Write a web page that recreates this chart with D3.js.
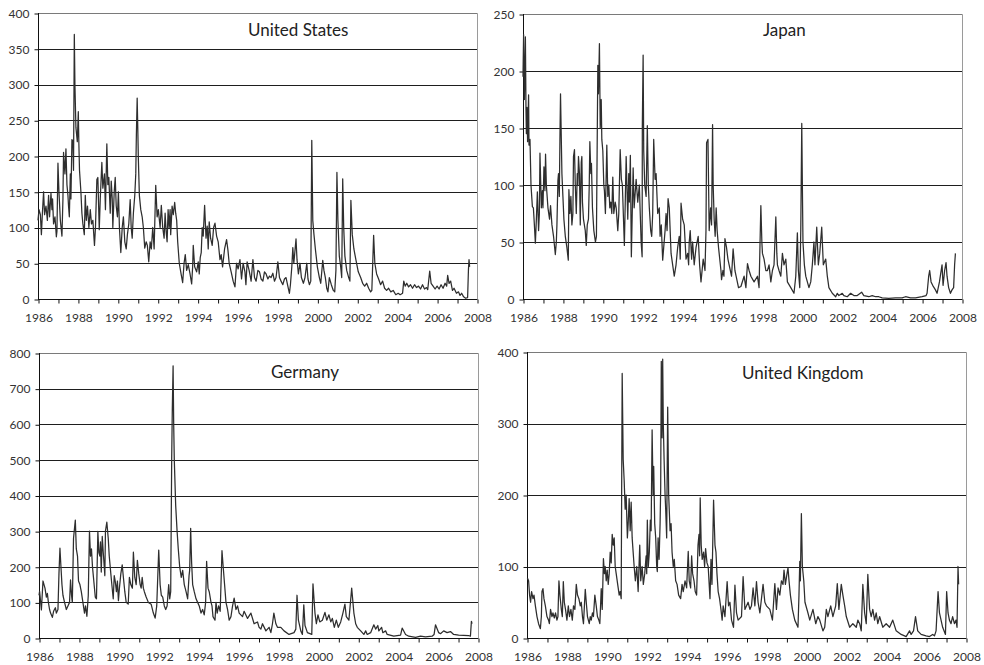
<!DOCTYPE html>
<html>
<head>
<meta charset="utf-8">
<script src="https://cdn.jsdelivr.net/npm/d3@7"></script>
<style>
  html, body { margin: 0; padding: 0; background: #fff; }
  svg { display: block; font-family: Lato, "Open Sans", sans-serif; }
  .tick text { fill: #333; }
</style>
</head>
<body>
<svg id="chart" width="984" height="665"></svg>
<script>
// Time axis: years (fractional) from 1986 to 2008
const yearTicks = d3.range(1986, 2009);

// Series: [year, value]
const usData = [
  [1986.00,110],[1986.05,125],[1986.12,118],[1986.17,90],[1986.22,120],[1986.28,150],[1986.33,118],[1986.40,130],
  [1986.47,110],[1986.53,145],[1986.58,115],[1986.65,148],[1986.70,125],[1986.73,140],[1986.78,105],[1986.85,115],
  [1986.92,87],[1986.95,95],[1987.00,190],[1987.05,150],[1987.12,110],[1987.20,88],[1987.25,140],[1987.28,205],
  [1987.35,175],[1987.40,210],[1987.45,160],[1987.50,145],[1987.53,130],[1987.57,115],[1987.62,175],[1987.65,140],
  [1987.70,223],[1987.75,220],[1987.78,180],[1987.82,370],[1987.85,300],[1987.90,240],[1987.97,220],[1988.02,262],
  [1988.05,215],[1988.08,180],[1988.15,150],[1988.20,120],[1988.25,105],[1988.32,90],[1988.37,145],[1988.42,110],
  [1988.48,130],[1988.55,100],[1988.62,125],[1988.68,105],[1988.75,110],[1988.83,75],[1988.88,100],[1988.95,167],
  [1989.00,170],[1989.07,97],[1989.12,140],[1989.20,191],[1989.25,155],[1989.33,175],[1989.38,125],[1989.45,217],
  [1989.50,160],[1989.55,170],[1989.62,120],[1989.67,165],[1989.72,140],[1989.75,100],[1989.82,150],[1989.87,170],
  [1989.92,130],[1989.98,115],[1990.03,150],[1990.08,100],[1990.15,65],[1990.22,100],[1990.28,115],[1990.35,80],
  [1990.42,70],[1990.48,90],[1990.55,105],[1990.62,139],[1990.67,100],[1990.72,85],[1990.78,120],[1990.85,145],
  [1990.90,175],[1990.93,230],[1990.97,281],[1991.00,240],[1991.03,195],[1991.08,145],[1991.15,125],[1991.22,115],
  [1991.28,100],[1991.35,71],[1991.42,80],[1991.48,75],[1991.55,52],[1991.62,80],[1991.68,70],[1991.75,100],
  [1991.82,70],[1991.90,159],[1991.97,115],[1992.03,125],[1992.12,100],[1992.18,131],[1992.25,100],[1992.32,85],
  [1992.37,120],[1992.42,95],[1992.47,80],[1992.52,125],[1992.57,100],[1992.62,125],[1992.65,90],[1992.72,130],
  [1992.78,118],[1992.85,135],[1992.90,120],[1992.95,110],[1993.00,80],[1993.08,50],[1993.17,35],[1993.25,23],
  [1993.32,50],[1993.38,62],[1993.45,40],[1993.53,48],[1993.62,35],[1993.70,21],[1993.75,45],[1993.78,75],
  [1993.85,45],[1993.95,38],[1994.03,52],[1994.08,35],[1994.13,58],[1994.18,65],[1994.23,100],[1994.28,88],
  [1994.35,131],[1994.42,85],[1994.48,102],[1994.53,70],[1994.58,108],[1994.65,85],[1994.73,75],[1994.80,100],
  [1994.87,106],[1994.95,88],[1995.03,80],[1995.12,55],[1995.18,62],[1995.25,45],[1995.35,70],[1995.45,83],
  [1995.52,68],[1995.58,50],[1995.68,38],[1995.78,25],[1995.87,17],[1995.95,50],[1996.03,42],[1996.12,55],
  [1996.20,28],[1996.28,50],[1996.37,38],[1996.42,20],[1996.48,52],[1996.58,40],[1996.68,25],[1996.77,55],
  [1996.85,30],[1996.93,25],[1997.02,40],[1997.10,38],[1997.18,28],[1997.27,25],[1997.35,38],[1997.43,35],
  [1997.52,28],[1997.60,32],[1997.68,30],[1997.77,36],[1997.85,25],[1997.93,30],[1998.02,52],[1998.10,30],
  [1998.18,25],[1998.27,20],[1998.35,28],[1998.43,30],[1998.52,18],[1998.60,8],[1998.65,20],[1998.72,45],
  [1998.77,72],[1998.82,50],[1998.87,65],[1998.93,84],[1998.98,55],[1999.05,35],[1999.13,50],[1999.20,30],
  [1999.30,22],[1999.38,30],[1999.47,50],[1999.53,28],[1999.60,20],[1999.67,25],[1999.72,222],[1999.77,110],
  [1999.83,90],[1999.90,70],[2000.00,45],[2000.10,30],[2000.17,22],[2000.27,54],[2000.33,40],[2000.40,30],
  [2000.47,15],[2000.53,10],[2000.60,30],[2000.70,20],[2000.80,12],[2000.87,10],[2000.93,40],[2000.98,177],
  [2001.03,110],[2001.10,60],[2001.17,45],[2001.22,30],[2001.27,168],[2001.32,100],[2001.38,60],[2001.47,40],
  [2001.57,30],[2001.63,25],[2001.68,138],[2001.75,90],[2001.83,70],[2001.93,55],[2002.05,38],[2002.17,30],
  [2002.27,22],[2002.37,18],[2002.47,22],[2002.57,15],[2002.67,10],[2002.73,12],[2002.82,89],[2002.88,50],
  [2002.97,35],[2003.07,28],[2003.17,20],[2003.27,25],[2003.37,15],[2003.47,12],[2003.57,15],[2003.68,10],
  [2003.80,12],[2003.93,6],[2004.05,8],[2004.15,6],[2004.27,8],[2004.33,25],[2004.40,18],[2004.48,22],
  [2004.57,17],[2004.67,20],[2004.77,15],[2004.87,20],[2004.97,16],[2005.07,18],[2005.17,14],[2005.27,20],
  [2005.37,14],[2005.47,16],[2005.53,13],[2005.63,39],[2005.70,22],[2005.80,18],[2005.90,14],[2006.00,18],
  [2006.10,14],[2006.20,20],[2006.30,15],[2006.40,22],[2006.48,18],[2006.53,33],[2006.60,22],[2006.68,25],
  [2006.77,12],[2006.85,15],[2006.97,8],[2007.07,10],[2007.15,5],[2007.23,8],[2007.33,3],[2007.43,1],
  [2007.53,2],[2007.57,40],[2007.60,55],[2007.63,45]
];

const japanData = [
  [1986.00,195],[1986.03,232],[1986.07,175],[1986.10,205],[1986.12,230],[1986.15,166],[1986.17,145],[1986.20,168],
  [1986.23,138],[1986.28,179],[1986.30,135],[1986.35,140],[1986.40,100],[1986.47,81],[1986.52,80],[1986.57,65],
  [1986.62,49],[1986.67,70],[1986.72,94],[1986.78,60],[1986.82,75],[1986.85,128],[1986.92,80],[1986.97,95],
  [1987.00,80],[1987.05,116],[1987.10,95],[1987.13,127],[1987.17,100],[1987.25,80],[1987.33,70],[1987.38,82],
  [1987.45,65],[1987.53,55],[1987.62,39],[1987.67,50],[1987.70,65],[1987.75,104],[1987.78,110],[1987.82,90],
  [1987.85,139],[1987.88,180],[1987.92,140],[1987.95,110],[1988.00,90],[1988.05,70],[1988.12,55],[1988.20,45],
  [1988.27,34],[1988.30,96],[1988.35,75],[1988.40,90],[1988.45,65],[1988.50,75],[1988.53,125],[1988.58,131],
  [1988.62,100],[1988.67,75],[1988.72,110],[1988.75,100],[1988.78,125],[1988.83,110],[1988.87,65],[1988.92,120],
  [1988.95,125],[1988.98,85],[1989.03,70],[1989.12,60],[1989.17,47],[1989.22,65],[1989.28,70],[1989.32,100],
  [1989.35,138],[1989.40,110],[1989.43,119],[1989.48,80],[1989.55,60],[1989.63,50],[1989.68,55],[1989.75,205],
  [1989.78,180],[1989.83,224],[1989.87,150],[1989.92,175],[1989.95,140],[1990.00,130],[1990.05,100],[1990.08,95],
  [1990.13,75],[1990.20,135],[1990.25,90],[1990.30,100],[1990.35,80],[1990.40,85],[1990.45,75],[1990.50,107],
  [1990.55,75],[1990.62,85],[1990.67,80],[1990.75,60],[1990.80,75],[1990.87,131],[1990.93,105],[1990.98,100],
  [1991.08,47],[1991.13,90],[1991.17,125],[1991.25,70],[1991.30,110],[1991.33,85],[1991.38,126],[1991.43,37],
  [1991.52,115],[1991.57,80],[1991.67,105],[1991.75,85],[1991.83,100],[1991.92,50],[1991.97,37],[1991.98,151],
  [1992.02,214],[1992.05,130],[1992.10,100],[1992.17,90],[1992.23,152],[1992.28,100],[1992.33,80],[1992.40,60],
  [1992.45,55],[1992.50,75],[1992.55,140],[1992.62,105],[1992.67,110],[1992.75,75],[1992.83,80],[1992.87,55],
  [1992.93,65],[1993.00,34],[1993.05,45],[1993.12,60],[1993.17,75],[1993.22,60],[1993.27,88],[1993.33,80],
  [1993.42,40],[1993.50,30],[1993.58,20],[1993.67,30],[1993.75,45],[1993.83,55],[1993.88,35],[1993.92,84],
  [1994.00,70],[1994.08,65],[1994.17,35],[1994.25,40],[1994.30,30],[1994.33,50],[1994.38,60],[1994.45,35],
  [1994.50,50],[1994.58,30],[1994.67,45],[1994.78,55],[1994.85,30],[1994.92,15],[1995.03,35],[1995.12,25],
  [1995.17,60],[1995.20,137],[1995.27,140],[1995.30,100],[1995.33,60],[1995.40,80],[1995.45,65],[1995.50,153],
  [1995.53,100],[1995.58,70],[1995.63,55],[1995.68,80],[1995.73,60],[1995.80,45],[1995.83,40],[1995.92,25],
  [1995.95,17],[1996.02,25],[1996.07,20],[1996.12,53],[1996.20,45],[1996.27,35],[1996.33,30],[1996.45,20],
  [1996.53,44],[1996.62,25],[1996.68,20],[1996.80,10],[1996.92,11],[1997.08,20],[1997.17,10],[1997.25,31],
  [1997.33,25],[1997.42,20],[1997.58,15],[1997.75,20],[1997.83,10],[1997.92,82],[1997.97,50],[1998.00,40],
  [1998.08,35],[1998.17,25],[1998.25,25],[1998.33,30],[1998.42,15],[1998.50,25],[1998.58,30],[1998.67,72],
  [1998.72,40],[1998.75,30],[1998.83,25],[1998.92,20],[1999.00,40],[1999.08,30],[1999.17,35],[1999.25,15],
  [1999.42,10],[1999.58,5],[1999.67,20],[1999.75,58],[1999.80,25],[1999.87,10],[1999.92,60],[1999.97,154],
  [2000.00,100],[2000.03,50],[2000.10,30],[2000.17,20],[2000.33,10],[2000.42,15],[2000.50,30],[2000.58,50],
  [2000.63,30],[2000.72,63],[2000.80,30],[2000.87,40],[2000.97,63],[2001.05,30],[2001.17,35],[2001.25,20],
  [2001.33,10],[2001.50,5],[2001.67,2],[2001.75,5],[2001.83,3],[2002.00,5],[2002.08,3],[2002.25,2],
  [2002.42,5],[2002.58,3],[2002.75,3],[2002.97,6],[2003.08,3],[2003.33,2],[2003.50,3],[2003.67,2],
  [2003.83,2],[2004.00,1],[2004.33,0.5],[2004.67,1],[2005.00,1],[2005.17,2],[2005.42,1],[2005.67,1],
  [2006.00,2],[2006.20,3],[2006.25,5],[2006.33,20],[2006.38,25],[2006.45,15],[2006.53,12],[2006.67,8],
  [2006.75,5],[2006.87,15],[2006.93,22],[2007.00,30],[2007.05,12],[2007.10,20],[2007.13,25],[2007.20,32],
  [2007.25,20],[2007.33,10],[2007.42,5],[2007.50,8],[2007.58,10],[2007.63,30],[2007.67,40]
];

const germanyData = [
  [1986.00,120],[1986.03,131],[1986.12,79],[1986.20,160],[1986.25,150],[1986.30,140],[1986.37,115],[1986.42,125],
  [1986.47,100],[1986.53,80],[1986.58,70],[1986.67,58],[1986.73,75],[1986.82,85],[1986.87,70],[1986.95,80],
  [1987.00,180],[1987.05,252],[1987.10,200],[1987.15,150],[1987.20,120],[1987.28,100],[1987.37,80],[1987.45,90],
  [1987.53,100],[1987.58,163],[1987.63,120],[1987.67,100],[1987.73,280],[1987.82,331],[1987.87,250],[1987.93,230],
  [1987.98,160],[1988.05,150],[1988.12,130],[1988.20,100],[1988.28,70],[1988.33,90],[1988.40,61],[1988.47,120],
  [1988.50,215],[1988.53,300],[1988.58,230],[1988.63,250],[1988.68,200],[1988.73,170],[1988.82,115],[1988.88,110],
  [1988.95,299],[1989.00,240],[1989.05,230],[1989.08,270],[1989.12,185],[1989.17,285],[1989.22,240],[1989.27,200],
  [1989.30,175],[1989.33,300],[1989.40,325],[1989.47,280],[1989.52,230],[1989.60,180],[1989.65,150],[1989.72,110],
  [1989.77,175],[1989.82,160],[1989.88,130],[1989.93,160],[1989.98,105],[1990.03,140],[1990.10,180],[1990.17,205],
  [1990.23,170],[1990.30,130],[1990.37,100],[1990.47,95],[1990.53,170],[1990.60,150],[1990.68,140],[1990.73,241],
  [1990.80,170],[1990.87,150],[1990.93,218],[1991.00,180],[1991.07,150],[1991.12,140],[1991.17,170],[1991.23,140],
  [1991.28,130],[1991.37,115],[1991.48,100],[1991.62,95],[1991.73,70],[1991.82,56],[1991.90,90],[1991.95,170],
  [1992.00,247],[1992.07,150],[1992.13,120],[1992.20,115],[1992.28,90],[1992.35,80],[1992.42,90],[1992.50,150],
  [1992.55,110],[1992.60,130],[1992.65,504],[1992.68,640],[1992.72,764],[1992.75,600],[1992.78,500],[1992.85,372],
  [1992.92,300],[1992.98,250],[1993.05,200],[1993.13,170],[1993.20,190],[1993.28,150],[1993.37,130],[1993.45,110],
  [1993.52,175],[1993.55,190],[1993.60,308],[1993.65,210],[1993.70,150],[1993.78,130],[1993.87,110],[1993.95,100],
  [1994.03,90],[1994.12,70],[1994.20,80],[1994.28,65],[1994.35,100],[1994.40,215],[1994.47,140],[1994.53,130],
  [1994.62,100],[1994.67,90],[1994.72,60],[1994.82,50],[1994.87,100],[1994.93,70],[1995.00,90],[1995.08,75],
  [1995.17,245],[1995.23,200],[1995.30,150],[1995.37,100],[1995.45,80],[1995.53,50],[1995.62,60],[1995.70,90],
  [1995.78,112],[1995.87,80],[1995.95,90],[1996.03,70],[1996.20,60],[1996.28,75],[1996.45,55],[1996.62,70],
  [1996.78,40],[1996.95,45],[1997.03,30],[1997.12,25],[1997.20,40],[1997.37,20],[1997.53,30],[1997.62,15],
  [1997.70,40],[1997.77,70],[1997.87,40],[1997.95,30],[1998.12,30],[1998.28,20],[1998.53,10],[1998.78,15],
  [1998.87,25],[1998.93,120],[1999.00,50],[1999.12,20],[1999.20,10],[1999.27,93],[1999.33,35],[1999.45,15],
  [1999.67,10],[1999.73,152],[1999.83,70],[1999.90,40],[1999.98,65],[2000.07,45],[2000.20,50],[2000.33,72],
  [2000.42,50],[2000.53,65],[2000.62,45],[2000.70,55],[2000.80,30],[2000.90,50],[2001.00,30],[2001.12,45],
  [2001.23,70],[2001.33,95],[2001.40,60],[2001.53,50],[2001.67,140],[2001.78,70],[2001.87,40],[2001.95,30],
  [2002.12,20],[2002.28,10],[2002.37,20],[2002.45,10],[2002.62,15],[2002.78,37],[2002.87,25],[2002.98,35],
  [2003.03,20],[2003.17,30],[2003.23,15],[2003.37,20],[2003.45,10],[2003.78,5],[2004.12,8],[2004.20,28],
  [2004.37,10],[2004.53,5],[2004.87,2],[2005.12,5],[2005.37,3],[2005.70,5],[2005.80,10],[2005.87,37],
  [2006.03,15],[2006.12,12],[2006.28,20],[2006.45,15],[2006.62,18],[2006.78,10],[2007.03,8],[2007.53,7],
  [2007.62,5],[2007.67,47],[2007.70,40]
];

const ukData = [
  [1986.02,84],[1986.08,80],[1986.13,60],[1986.18,50],[1986.23,65],[1986.30,55],[1986.35,60],[1986.42,45],
  [1986.50,30],[1986.58,20],[1986.67,13],[1986.72,30],[1986.75,65],[1986.80,69],[1986.85,55],[1986.92,45],
  [1987.00,30],[1987.08,25],[1987.12,20],[1987.18,40],[1987.25,30],[1987.30,35],[1987.37,28],[1987.43,35],
  [1987.50,25],[1987.55,30],[1987.60,80],[1987.65,60],[1987.72,40],[1987.77,30],[1987.82,79],[1987.87,50],
  [1987.93,40],[1988.00,25],[1988.07,45],[1988.13,30],[1988.20,40],[1988.27,25],[1988.33,45],[1988.40,40],
  [1988.47,75],[1988.53,60],[1988.60,55],[1988.67,45],[1988.72,50],[1988.78,30],[1988.83,20],[1988.92,68],
  [1988.97,50],[1989.03,30],[1989.12,20],[1989.17,30],[1989.22,25],[1989.28,35],[1989.33,30],[1989.40,60],
  [1989.47,45],[1989.53,30],[1989.60,25],[1989.65,20],[1989.72,69],[1989.77,40],[1989.83,111],[1989.88,90],
  [1989.92,100],[1989.97,80],[1990.02,95],[1990.07,75],[1990.12,90],[1990.17,120],[1990.22,105],[1990.27,145],
  [1990.32,130],[1990.37,140],[1990.42,100],[1990.47,90],[1990.52,80],[1990.57,70],[1990.62,60],[1990.67,65],
  [1990.72,55],[1990.77,370],[1990.82,250],[1990.87,220],[1990.92,180],[1990.97,200],[1991.03,140],[1991.07,160],
  [1991.12,195],[1991.17,150],[1991.22,190],[1991.27,140],[1991.32,120],[1991.37,100],[1991.43,80],[1991.50,100],
  [1991.57,65],[1991.65,130],[1991.70,80],[1991.77,100],[1991.83,75],[1991.90,90],[1991.97,115],[1992.00,90],
  [1992.03,165],[1992.08,100],[1992.13,120],[1992.18,165],[1992.22,150],[1992.27,291],[1992.32,200],[1992.35,240],
  [1992.40,160],[1992.45,140],[1992.50,100],[1992.53,93],[1992.57,140],[1992.62,110],[1992.67,160],[1992.70,210],
  [1992.73,387],[1992.77,280],[1992.80,390],[1992.83,300],[1992.87,250],[1992.92,200],[1992.95,180],[1993.00,140],
  [1993.05,323],[1993.10,200],[1993.17,150],[1993.22,160],[1993.27,120],[1993.33,100],[1993.38,110],[1993.45,80],
  [1993.52,75],[1993.60,60],[1993.70,55],[1993.77,75],[1993.83,65],[1993.92,80],[1994.00,70],[1994.08,121],
  [1994.13,80],[1994.20,70],[1994.25,115],[1994.30,90],[1994.37,80],[1994.43,65],[1994.50,60],[1994.57,130],
  [1994.62,145],[1994.65,115],[1994.68,196],[1994.73,130],[1994.78,110],[1994.85,120],[1994.90,100],[1994.95,125],
  [1995.02,105],[1995.08,100],[1995.17,55],[1995.22,110],[1995.27,75],[1995.35,193],[1995.42,130],[1995.47,120],
  [1995.52,90],[1995.58,65],[1995.65,55],[1995.72,40],[1995.78,25],[1995.83,45],[1995.92,30],[1996.03,79],
  [1996.10,45],[1996.17,50],[1996.25,25],[1996.35,15],[1996.42,74],[1996.50,35],[1996.58,25],[1996.75,30],
  [1996.83,86],[1996.92,40],[1997.08,50],[1997.17,40],[1997.25,45],[1997.33,70],[1997.42,45],[1997.50,79],
  [1997.58,50],[1997.67,35],[1997.83,75],[1997.92,50],[1998.00,45],[1998.17,40],[1998.30,25],[1998.42,76],
  [1998.50,40],[1998.58,70],[1998.67,60],[1998.75,80],[1998.83,75],[1998.88,95],[1998.95,75],[1999.03,90],
  [1999.08,98],[1999.13,80],[1999.20,60],[1999.30,40],[1999.42,25],[1999.58,15],[1999.63,60],[1999.67,107],
  [1999.70,80],[1999.75,174],[1999.80,100],[1999.87,80],[1999.93,50],[2000.08,35],[2000.17,25],[2000.33,40],
  [2000.47,20],[2000.58,30],[2000.67,25],[2000.83,10],[2000.92,15],[2001.00,40],[2001.08,30],[2001.22,45],
  [2001.33,30],[2001.47,45],[2001.55,76],[2001.63,40],[2001.75,75],[2001.83,60],[2001.92,45],[2002.00,30],
  [2002.17,15],[2002.33,20],[2002.50,15],[2002.58,25],[2002.67,20],[2002.75,10],[2002.83,75],[2002.92,35],
  [2003.00,20],[2003.08,89],[2003.17,40],[2003.25,30],[2003.33,40],[2003.42,25],[2003.50,35],[2003.58,20],
  [2003.67,30],[2003.83,15],[2004.00,20],[2004.17,15],[2004.33,25],[2004.50,10],[2004.75,5],[2004.92,3],
  [2005.00,2],[2005.17,10],[2005.25,5],[2005.37,10],[2005.47,30],[2005.58,10],[2005.75,5],[2006.00,3],
  [2006.17,2],[2006.33,5],[2006.42,3],[2006.50,10],[2006.60,65],[2006.67,35],[2006.83,15],[2006.97,5],
  [2007.03,65],[2007.10,35],[2007.17,25],[2007.25,20],[2007.33,30],[2007.42,20],[2007.50,25],[2007.55,15],
  [2007.60,100],[2007.63,75]
];

// Value-axis ticks for each panel
const usTicks = [0, 50, 100, 150, 200, 250, 300, 350, 400];
const japanTicks = [0, 50, 100, 150, 200, 250];
const germanyTicks = [0, 100, 200, 300, 400, 500, 600, 700, 800];
const ukTicks = [0, 100, 200, 300, 400];

const panels = [
  { title: "United States",  data: usData,      ticks: usTicks,      box: { x0: 38,  x1: 477, y0: 13,  y1: 299 }, tx: 248, ty: 35.5 },
  { title: "Japan",          data: japanData,   ticks: japanTicks,   box: { x0: 523, x1: 962, y0: 14,  y1: 299 }, tx: 763, ty: 35.5 },
  { title: "Germany",        data: germanyData, ticks: germanyTicks, box: { x0: 39,  x1: 478, y0: 353, y1: 638 }, tx: 271, ty: 377.5 },
  { title: "United Kingdom", data: ukData,      ticks: ukTicks,      box: { x0: 527, x1: 966, y0: 352, y1: 638 }, tx: 742, ty: 378.5 }
];

const svg = d3.select("#chart");

panels.forEach(p => {
  const b = p.box;
  const x = d3.scaleLinear().domain([1986, 2008]).range([b.x0, b.x1]);
  const y = d3.scaleLinear().domain([0, d3.max(p.ticks)]).range([b.y1, b.y0]);
  const g = svg.append("g");

  // horizontal gridlines
  g.append("g").selectAll("line")
    .data(p.ticks.slice(1, -1))
    .join("line")
    .attr("x1", b.x0).attr("x2", b.x1)
    .attr("y1", d => Math.round(y(d)) + 0.5).attr("y2", d => Math.round(y(d)) + 0.5)
    .attr("stroke", "#1e1e1e").attr("stroke-width", 1);

  // frame: top and right in grey
  const top = Math.round(y(d3.max(p.ticks))) + 0.5;
  g.append("line").attr("x1", b.x0).attr("x2", b.x1 + 0.5).attr("y1", top).attr("y2", top)
    .attr("stroke", "#7a7a7a");
  g.append("line").attr("x1", b.x1 + 0.5).attr("x2", b.x1 + 0.5).attr("y1", top).attr("y2", b.y1)
    .attr("stroke", "#9a9a9a");

  // value axis
  const yAxis = d3.axisLeft(y).tickValues(p.ticks).tickSize(4).tickPadding(5).tickFormat(d3.format("d"));
  const ya = g.append("g").attr("transform", `translate(${b.x0 + 0.5},0.5)`).call(yAxis);
  ya.select(".domain").attr("stroke", "#111").attr("d", `M0,${b.y0 - 0.5}V${b.y1 + 0.5}`);
  ya.selectAll(".tick line").attr("stroke", "#111");
  ya.selectAll(".tick text").attr("font-size", 12).attr("font-family", "Lato, sans-serif").attr("fill", "#333");

  // time axis
  const xAxis = d3.axisBottom(x).tickValues(yearTicks).tickSize(4).tickPadding(10)
    .tickFormat(d => d % 2 === 0 ? d : "");
  const xa = g.append("g").attr("transform", `translate(0.5,${Math.round(b.y1) + 0.5})`).call(xAxis);
  xa.select(".domain").attr("stroke", "#111").attr("d", `M${b.x0},0H${b.x1}`);
  xa.selectAll(".tick line").attr("stroke", "#111");
  xa.selectAll(".tick text").attr("font-size", 12).attr("font-family", "Lato, sans-serif").attr("fill", "#333");

  // series line
  const line = d3.line().x(d => x(d[0])).y(d => y(d[1]));
  g.append("path").datum(p.data)
    .attr("d", line)
    .attr("fill", "none")
    .attr("stroke", "#2e2e2e")
    .attr("stroke-width", 1.25)
    .attr("stroke-linejoin", "round");

  // panel title
  g.append("text").attr("x", p.tx).attr("y", p.ty)
    .attr("font-size", 17).attr("fill", "#222")
    .text(p.title);
});
</script>
</body>
</html>
